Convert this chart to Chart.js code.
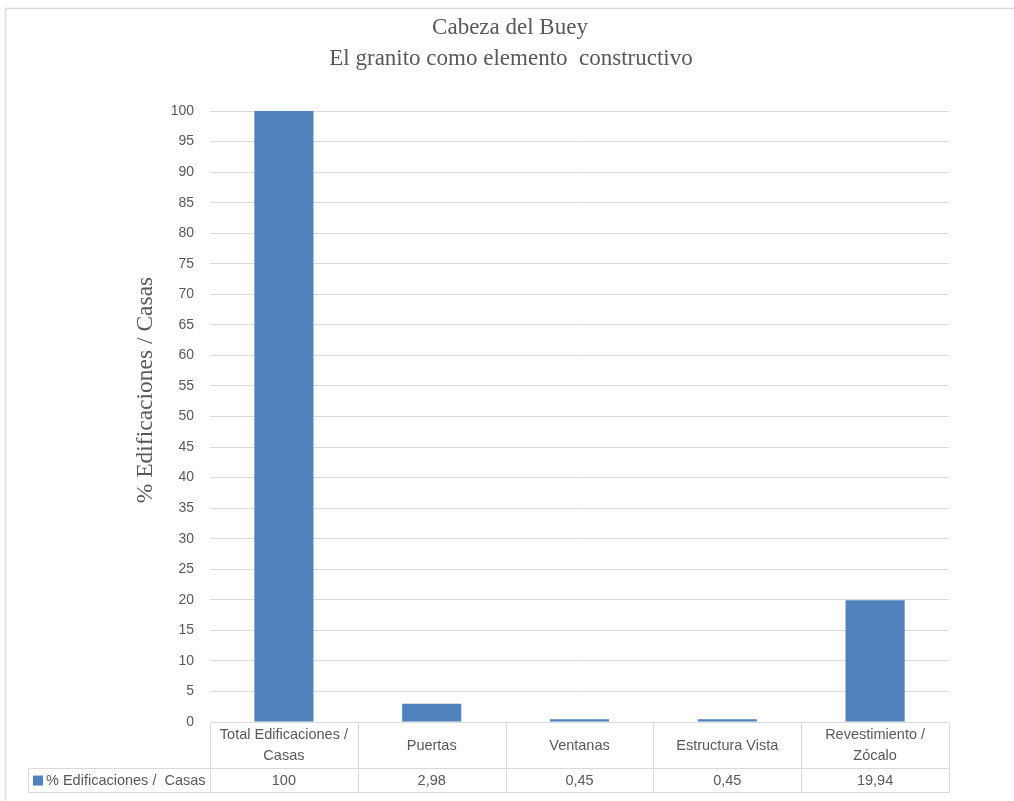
<!DOCTYPE html>
<html>
<head>
<meta charset="utf-8">
<script src="https://cdn.jsdelivr.net/npm/chart.js@4/dist/chart.umd.min.js"></script>
<style>
  html, body { margin: 0; padding: 0; background: #ffffff; }
  #wrap { width: 1014px; height: 801px; position: relative; }
</style>
</head>
<body>
<div id="wrap"><canvas id="c" width="1014" height="801"></canvas></div>
<script>
// ---- Data ----
const titleLines = ["Cabeza del Buey", "El granito como elemento  constructivo"];
const yAxisTitle = "% Edificaciones / Casas";
const seriesName = "% Edificaciones /  Casas";
const categories = [["Total Edificaciones /", "Casas"], ["Puertas"], ["Ventanas"], ["Estructura Vista"], ["Revestimiento /", "Zócalo"]];
const values = [100, 2.98, 0.45, 0.45, 19.94];
const valueLabels = ["100", "2,98", "0,45", "0,45", "19,94"];
const yMin = 0, yMax = 100, yStep = 5;

const GRID = '#d9d9d9';
const TEXT = '#595959';
const BAR = '#4f81bd';

const framePlugin = {
  id: 'frameAndTable',
  beforeDraw(chart) {
    const ctx = chart.ctx;
    ctx.save();
    ctx.fillStyle = '#ffffff';
    ctx.fillRect(0, 0, chart.width, chart.height);
    // outer frame (top + left visible)
    ctx.strokeStyle = GRID;
    ctx.lineWidth = 1.5;
    ctx.beginPath();
    ctx.moveTo(5.5, chart.height);
    ctx.lineTo(5.5, 8.5);
    ctx.lineTo(chart.width, 8.5);
    ctx.stroke();
    // title
    ctx.fillStyle = TEXT;
    ctx.font = '23px "Liberation Serif", serif';
    ctx.textAlign = 'center';
    ctx.textBaseline = 'middle';
    ctx.fillText(titleLines[0], 510, 28);
    ctx.fillText(titleLines[1], 511, 59);
    // y axis title
    ctx.save();
    ctx.translate(146, 390);
    ctx.rotate(-Math.PI / 2);
    ctx.font = '23.5px "Liberation Serif", serif';
    ctx.fillText(yAxisTitle, 0, 0);
    ctx.restore();
    ctx.restore();
  },
  afterDraw(chart) {
    const ctx = chart.ctx;
    const area = chart.chartArea;
    const xs = chart.scales.x;
    const n = categories.length;
    const cw = (area.right - area.left) / n;
    const top = Math.round(area.bottom) + 0.5;
    const mid = top + 46;
    const bot = top + 70;
    const legLeft = 28.5;
    ctx.save();
    ctx.strokeStyle = GRID;
    ctx.lineWidth = 1;
    ctx.beginPath();
    ctx.moveTo(area.left, top); ctx.lineTo(area.right, top);
    ctx.moveTo(legLeft, mid); ctx.lineTo(area.right, mid);
    ctx.moveTo(legLeft, bot); ctx.lineTo(area.right, bot);
    ctx.moveTo(legLeft, mid); ctx.lineTo(legLeft, bot);
    for (let i = 0; i <= n; i++) {
      const xx = Math.round(area.left + i * cw) + 0.5;
      ctx.moveTo(xx, top); ctx.lineTo(xx, bot);
    }
    ctx.stroke();

    ctx.fillStyle = TEXT;
    ctx.font = '14.5px "Liberation Sans", Arial, sans-serif';
    ctx.textAlign = 'center';
    ctx.textBaseline = 'middle';
    for (let i = 0; i < n; i++) {
      const cx = xs.getPixelForValue(i);
      const lines = categories[i];
      const lh = 21;
      const y0 = (top + mid) / 2 - (lines.length - 1) * lh / 2;
      lines.forEach((l, k) => ctx.fillText(l, cx, y0 + k * lh));
      ctx.fillText(valueLabels[i], cx, (mid + bot) / 2);
    }
    // legend key
    ctx.fillStyle = BAR;
    ctx.fillRect(33, (mid + bot) / 2 - 5, 10, 10);
    ctx.fillStyle = TEXT;
    ctx.textAlign = 'left';
    ctx.fillText(seriesName, 46, (mid + bot) / 2);
    ctx.restore();
  }
};

new Chart(document.getElementById('c'), {
  type: 'bar',
  data: {
    labels: categories,
    datasets: [{
      label: seriesName,
      data: values,
      backgroundColor: BAR,
      borderWidth: 0,
      barPercentage: 0.4,
      categoryPercentage: 1.0
    }]
  },
  options: {
    responsive: false,
    animation: false,
    layout: { padding: { top: 111, left: 0, right: 65, bottom: 79 } },
    plugins: {
      legend: { display: false },
      title: { display: false },
      tooltip: { enabled: false }
    },
    scales: {
      x: { display: false },
      y: {
        min: yMin,
        max: yMax,
        afterFit(scale) { scale.width = 210; },
        border: { display: false },
        grid: { color: GRID, lineWidth: 1, drawTicks: false },
        ticks: {
          stepSize: yStep,
          padding: 16,
          color: TEXT,
          font: { family: '"Liberation Sans", Arial, sans-serif', size: 14 }
        }
      }
    }
  },
  plugins: [framePlugin]
});
</script>
</body>
</html>
